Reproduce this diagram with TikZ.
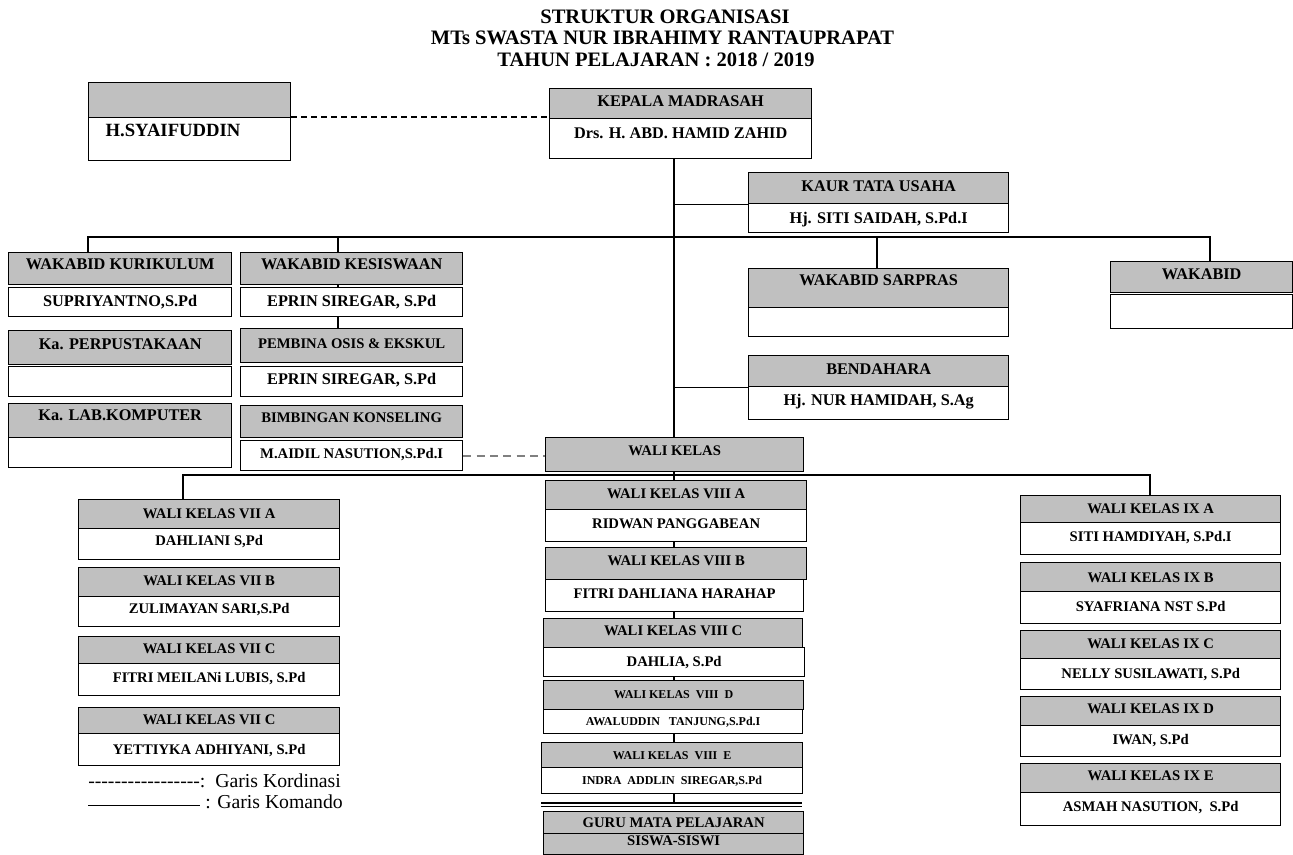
\documentclass[tikz,border=0pt]{standalone}
\usepackage{fontspec}
\setmainfont{Liberation Serif}
\definecolor{hg}{RGB}{192,192,192}
\definecolor{dg}{RGB}{128,128,128}
\newcommand\fbig{\fontsize{12.2pt}{14pt}\selectfont\bfseries}
\newcommand\fsmall{\fontsize{11pt}{13pt}\selectfont\bfseries}
\newcommand\ftiny{\fontsize{9pt}{11pt}\selectfont\bfseries}
\newcommand\ftitle{\fontsize{15.4pt}{18pt}\selectfont\bfseries}
\newcommand\fsya{\fontsize{14pt}{16pt}\selectfont\bfseries}
\newcommand\fleg{\fontsize{14.8pt}{17pt}\selectfont}
\tikzset{
  bx/.style n args={4}{anchor=north west, at={(#1,#2)},
    minimum width={(#3-#1)*0.75pt}, minimum height={(#4-#2)*0.75pt}},
  box/.style={draw, line width=1pt, inner sep=0pt, text depth=3pt},
  hd/.style={box, fill=hg, font=\fbig, text height=8.1pt},
  nm/.style={box, fill=white, font=\fbig, text height=8.1pt},
  hds/.style={box, fill=hg, font=\fsmall, text height=7.3pt},
  nms/.style={box, fill=white, font=\fsmall, text height=7.3pt},
  hdt/.style={box, fill=hg, font=\ftiny, text height=6pt},
  nmt/.style={box, fill=white, font=\ftiny, text height=6pt},
  up/.style={text depth=#1},
  link/.style={line width=0.9pt},
  coordline/.style={line width=0.9pt, dash pattern=on 4.5pt off 3pt},
  coordgray/.style={line width=1.5pt, draw=dg, dash pattern=on 6pt off 4pt},
  ttl/.style={font=\ftitle, inner sep=0pt},
}
\begin{document}
\begin{tikzpicture}[x=0.75pt,y=-0.75pt]
\useasboundingbox (0,0) rectangle (1293,855);
% title
\node[ttl] (t1) at (665,17) {STRUKTUR ORGANISASI};
\node[ttl] (t2) at (662.5,38) {MTs SWASTA NUR IBRAHIMY RANTAUPRAPAT};
\node[ttl] (t3) at (656,60) {TAHUN PELAJARAN : 2018 / 2019};
% coordinates for connectors
\coordinate (mx) at (674,0);
\coordinate (b1) at (88,237);
\coordinate (b2) at (338,237);
\coordinate (b3) at (877,237);
\coordinate (b4) at (1210,237);
\coordinate (c1) at (183,475);
\coordinate (c2) at (1150,475);
% top boxes
\node[hd, bx={88}{82}{290}{117}] (syaH) {};
\node[nm, font=\fsya, text height=9.3pt, bx={88}{117}{290}{160}, text width=126pt, align=left, up=12.75pt] (syaN) {H.SYAIFUDDIN};
\node[hd, up=4.5pt, bx={549}{88}{811}{118}] (kepH) {KEPALA MADRASAH};
\node[nm, up=9pt, bx={549}{118}{811}{158}] (kepN) {Drs. H. ABD. HAMID ZAHID};
\node[hd, up=3.75pt, bx={748}{172}{1008}{203}] (kaurH) {KAUR TATA USAHA};
\node[nm, up=0pt, bx={748}{203}{1008}{232}] (kaurN) {Hj. SITI SAIDAH, S.Pd.I};
% wakabid row
\node[hd, up=7.5pt, bx={8}{252}{231}{284}] (kurH) {WAKABID KURIKULUM};
\node[nm, up=2.25pt, bx={8}{287}{231}{316}] (kurN) {SUPRIYANTNO,S.Pd};
\node[hd, up=7.5pt, bx={240}{252}{462}{284}] (kesH) {WAKABID KESISWAAN};
\node[nm, up=2.25pt, bx={240}{287}{462}{316}] (kesN) {EPRIN SIREGAR, S.Pd};
\node[hd, up=6pt, bx={8}{330}{231}{364}] (perH) {Ka. PERPUSTAKAAN};
\node[nm, bx={8}{366}{231}{396}] (perN) {};
\node[hds, up=3pt, bx={240}{328}{462}{362}] (pemH) {PEMBINA OSIS \& EKSKUL};
\node[nm, up=4.5pt, bx={240}{366}{462}{396}] (pemN) {EPRIN SIREGAR, S.Pd};
\node[hd, up=9pt, bx={8}{403}{231}{437}] (labH) {Ka. LAB.KOMPUTER};
\node[nm, bx={8}{437}{231}{467}] (labN) {};
\node[hds, up=6pt, bx={240}{405}{462}{437}] (bkH) {BIMBINGAN KONSELING};
\node[nms, up=3pt, bx={240}{440}{462}{470}] (bkN) {M.AIDIL NASUTION,S.Pd.I};
\node[hd, up=12.75pt, bx={748}{268}{1008}{307}] (sarH) {WAKABID SARPRAS};
\node[nm, bx={748}{307}{1008}{336}] (sarN) {};
\node[hd, up=5.25pt, bx={1110}{261}{1292}{292}] (wkbH) {WAKABID};
\node[nm, bx={1110}{294}{1292}{328}] (wkbN) {};
\node[hd, up=3.75pt, bx={748}{355}{1008}{386}] (bendH) {BENDAHARA};
\node[nm, up=5.25pt, bx={748}{386}{1008}{419}] (bendN) {Hj. NUR HAMIDAH, S.Ag};
\node[hds, up=6pt, bx={545}{437}{803}{471}] (wk) {WALI KELAS};
% class VII
\node[hds, up=0.75pt, bx={78}{499}{339}{528}] (viiaH) {WALI KELAS VII A};
\node[nms, up=5.25pt, bx={78}{528}{339}{559}] (viiaN) {DAHLIANI S,Pd};
\node[hds, up=2.25pt, bx={78}{567}{339}{596}] (viibH) {WALI KELAS VII B};
\node[nms, up=4.5pt, bx={78}{596}{339}{626}] (viibN) {ZULIMAYAN SARI,S.Pd};
\node[hds, up=2.25pt, bx={78}{636}{339}{663}] (viicH) {WALI KELAS VII C};
\node[nms, up=3pt, bx={78}{663}{339}{695}] (viicN) {FITRI MEILANi LUBIS, S.Pd};
\node[hds, up=1.5pt, bx={78}{707}{339}{733}] (viidH) {WALI KELAS VII C};
\node[nms, up=0pt, bx={78}{733}{339}{765}] (viidN) {YETTIYKA ADHIYANI, S.Pd};
% class VIII
\node[hds, up=2.25pt, bx={545}{480}{806}{509}] (viiiaH) {WALI KELAS VIII A};
\node[nms, up=3pt, bx={545}{509}{806}{541}] (viiiaN) {RIDWAN PANGGABEAN};
\node[hds, up=4.5pt, bx={545}{547}{806}{579}] (viiibH) {WALI KELAS VIII B};
\node[nms, up=3pt, bx={545}{579}{803}{611}] (viiibN) {FITRI DAHLIANA HARAHAP};
\node[hds, up=3.75pt, bx={543}{618}{802}{647}] (viiicH) {WALI KELAS VIII C};
\node[nms, up=0.75pt, bx={543}{647}{804}{676}] (viiicN) {DAHLIA, S.Pd};
\node[hdt, up=0.75pt, bx={543}{680}{803}{709}] (viiidH) {WALI KELAS\ \ VIII\ \ D};
\node[nmt, up=0pt, bx={543}{709}{802}{733}] (viiidN) {AWALUDDIN\ \ \ TANJUNG,S.Pd.I};
\node[hdt, up=0pt, bx={541}{742}{802}{767}] (viiieH) {WALI KELAS\ \ VIII\ \ E};
\node[nmt, up=0pt, bx={541}{767}{802}{793}] (viiieN) {INDRA\ \ ADDLIN\ \ SIREGAR,S.Pd};
\node[hds, up=0pt, bx={543}{811}{803}{833}] (guru) {GURU MATA PELAJARAN};
\node[hds, up=5.25pt, bx={543}{833}{803}{854}] (siswa) {SISWA-SISWI};
% class IX
\node[hds, up=0.75pt, bx={1020}{495}{1280}{522}] (ixaH) {WALI KELAS IX A};
\node[nms, up=3pt, bx={1020}{522}{1280}{554}] (ixaN) {SITI HAMDIYAH, S.Pd.I};
\node[hds, up=0pt, bx={1020}{562}{1280}{591}] (ixbH) {WALI KELAS IX B};
\node[nms, up=1.5pt, bx={1020}{591}{1280}{623}] (ixbN) {SYAFRIANA NST S.Pd};
\node[hds, up=1.5pt, bx={1020}{630}{1280}{658}] (ixcH) {WALI KELAS IX C};
\node[nms, up=0.75pt, bx={1020}{658}{1280}{689}] (ixcN) {NELLY SUSILAWATI, S.Pd};
\node[hds, up=3.75pt, bx={1020}{696}{1280}{725}] (ixdH) {WALI KELAS IX D};
\node[nms, up=2.25pt, bx={1020}{725}{1280}{756}] (ixdN) {IWAN, S.Pd};
\node[hds, up=3.75pt, bx={1020}{763}{1280}{792}] (ixeH) {WALI KELAS IX E};
\node[nms, up=3.75pt, bx={1020}{792}{1280}{825}] (ixeN) {ASMAH NASUTION,\ \ S.Pd};
% connectors
\draw[coordline] (syaN.north east) -- (syaN.north east -| kepN.west);
\draw[link] (kepN.south -| mx) -- (wk.north -| mx);
\draw[link] (kaurH.south west) -- (kaurH.south west -| mx);
\draw[link] (bendH.south west) -- (bendH.south west -| mx);
\draw[link] (kurH.north -| b1) -- (b1) -- (b4) -- (wkbH.north -| b4);
\draw[link] (b2) -- (kesH.north -| b2);
\draw[link] (b3) -- (sarH.north -| b3);
\draw[link] (kesH.south -| b2) -- (kesN.north -| b2);
\draw[link] (kesN.south -| b2) -- (pemH.north -| b2);
\draw[coordgray] (bkN.east) -- (bkN.east -| wk.west);
\draw[link] (viiaH.north -| c1) -- (c1) -- (c2) -- (ixaH.north -| c2);
\draw[link] (wk.south -| mx) -- (viiiaH.north -| mx);
\draw[link] (viiiaN.south -| mx) -- (viiibH.north -| mx);
\draw[link] (viiibN.south -| mx) -- (viiicH.north -| mx);
\draw[link] (viiicN.south -| mx) -- (viiidH.north -| mx);
\draw[link] (viiidN.south -| mx) -- (viiieH.north -| mx);
\coordinate (dl) at (674,803);
\draw[link] (viiieN.south -| mx) -- (dl);
\draw[line width=0.9pt] (541,803) -- (802,803);
\draw[line width=0.9pt] (541,806.5) -- (802,806.5);
% legend
\node[font=\fleg, anchor=west, inner sep=0pt] (lg1) at (88,781) {-{}-{}-{}-{}-{}-{}-{}-{}-{}-{}-{}-{}-{}-{}-{}-{}-{}:\ \ Garis Kordinasi};
\coordinate (lk1) at (88,805);
\coordinate (lk2) at (200,805);
\draw[line width=0.75pt] (lk1) -- (lk2);
\node[font=\fleg, anchor=west, inner sep=0pt] (lg2) at (205,802) {: Garis Komando};
\end{tikzpicture}
\end{document}
